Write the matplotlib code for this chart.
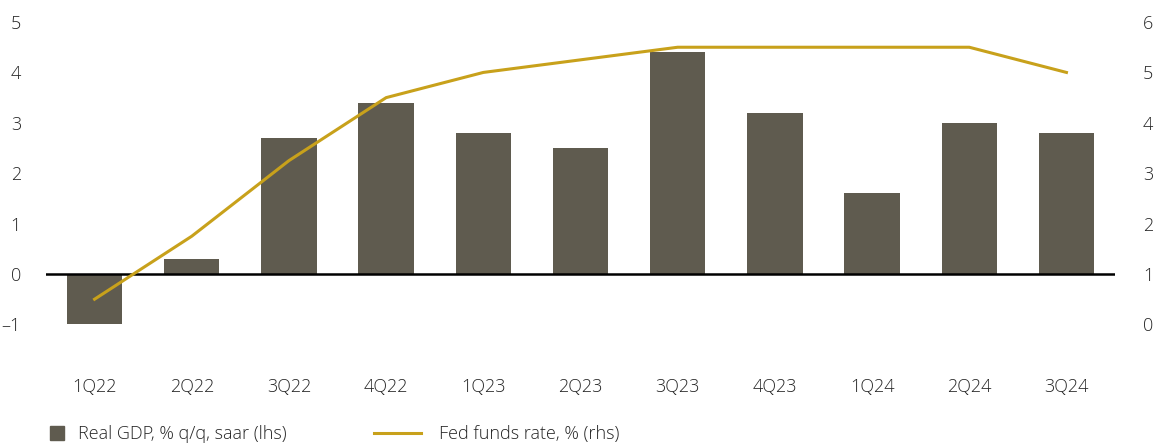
import matplotlib.pyplot as plt
from matplotlib.lines import Line2D

# ------------------------------------------------------------
# DATA
# ------------------------------------------------------------
quarters = ["1Q22", "2Q22", "3Q22", "4Q22", "1Q23", "2Q23",
            "3Q23", "4Q23", "1Q24", "2Q24", "3Q24"]
real_gdp = [-1.0, 0.3, 2.7, 3.4, 2.8, 2.5, 4.4, 3.2, 1.6, 3.0, 2.8]
fed_funds = [0.5, 1.75, 3.25, 4.5, 5.0, 5.25, 5.5, 5.5, 5.5, 5.5, 5.0]

left_ticks = [-1, 0, 1, 2, 3, 4, 5]
right_ticks = [0, 1, 2, 3, 4, 5, 6]

BAR_COLOR = "#5f5b4f"
LINE_COLOR = "#c8a11b"
TEXT_COLOR = "#262626"

plt.rcParams["font.family"] = ["Open Sans", "DejaVu Sans"]
plt.rcParams["font.weight"] = "light"
plt.rcParams["font.size"] = 13

fig = plt.figure(figsize=(11.55, 4.44), dpi=100)
ax = fig.add_axes([0.0398, 0.1899, 0.9256, 0.7718])
ax2 = ax.twinx()

x = list(range(len(quarters)))

ax.bar(x, real_gdp, width=0.57, color=BAR_COLOR, zorder=2)
ax.axhline(0, color="black", lw=1.8, zorder=3)
ax2.plot(x, fed_funds, color=LINE_COLOR, lw=2.2, zorder=4)

ax.set_xlim(-0.5, 10.5)
ax.set_ylim(-1.7, 5.1)
ax2.set_ylim(-0.7, 6.1)

ax.set_yticks(left_ticks)
ax.set_yticklabels(["\u20131" if v < 0 else str(v) for v in left_ticks])
ax2.set_yticks(right_ticks)

ax.set_xticks(x)
ax.set_xticklabels(quarters)

for a in (ax, ax2):
    for s in a.spines.values():
        s.set_visible(False)
    a.tick_params(length=0, colors=TEXT_COLOR)

ax.tick_params(axis="y", pad=18)
ax.tick_params(axis="x", pad=13)
ax2.tick_params(axis="y", pad=20)

# ------------------------------------------------------------
# LEGEND
# ------------------------------------------------------------
h1 = Line2D([], [], marker="s", ls="none", color=BAR_COLOR, markersize=10)
h2 = Line2D([], [], color=LINE_COLOR, lw=2.2)

fig.legend([h1], ["Real GDP, % q/q, saar (lhs)"], loc="center left",
           bbox_to_anchor=(0.029, 0.022), frameon=False,
           handlelength=0.8, handletextpad=0.75, labelcolor=TEXT_COLOR)
fig.legend([h2], ["Fed funds rate, % (rhs)"], loc="center left",
           bbox_to_anchor=(0.310, 0.022), frameon=False,
           handlelength=2.6, handletextpad=1.0, labelcolor=TEXT_COLOR)

fig.savefig("out.png", dpi=100)
